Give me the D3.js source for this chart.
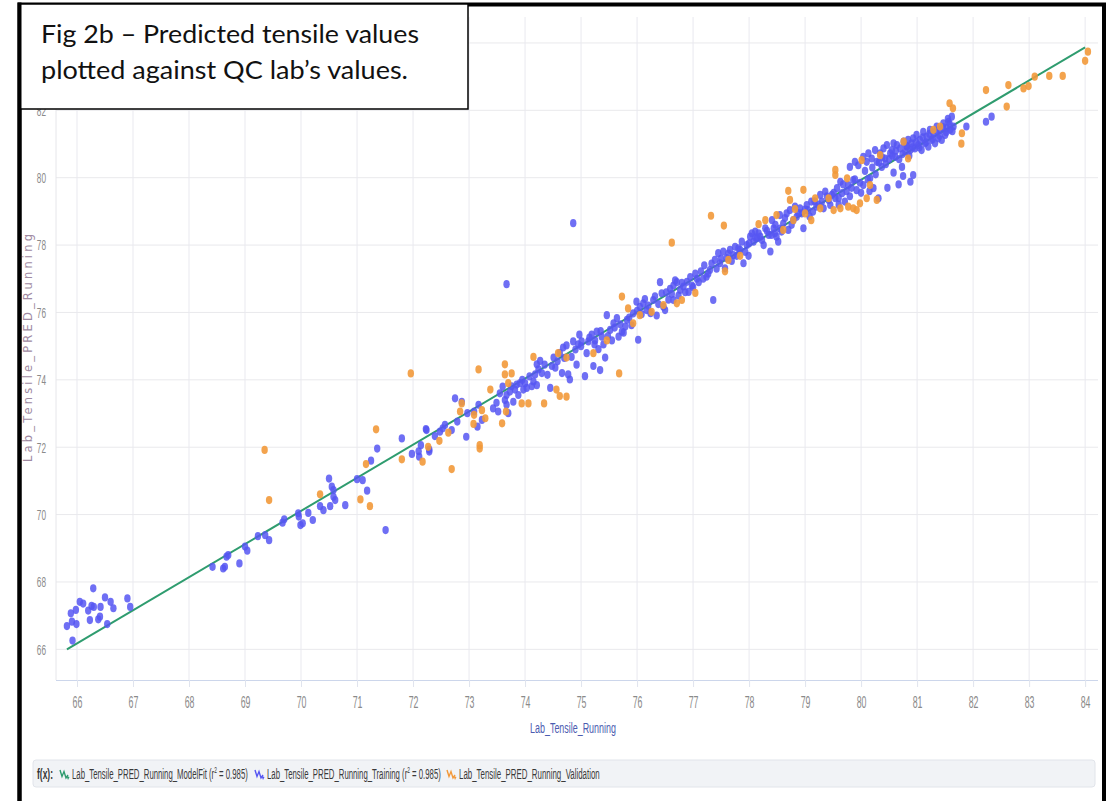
<!DOCTYPE html>
<html><head><meta charset="utf-8">
<script src="https://cdn.jsdelivr.net/npm/d3@7"></script>
<style>html,body{margin:0;padding:0;background:#fff;} svg{display:block;}</style>
</head><body>
<svg id="chart" width="1112" height="801"></svg>
<script>
// ---------- data ----------
const xTicks = [66,67,68,69,70,71,72,73,74,75,76,77,78,79,80,81,82,83,84];
const yGrid = [66,68,70,72,74,76,78,80,82,84];
const yLabels = [66,68,70,72,74,76,78,80,82];
const titleLines = ["Fig 2b \u2013 Predicted tensile values", "plotted against QC lab\u2019s values."];
const xTitle = "Lab_Tensile_Running";
const yTitle = "Lab_Tensile_PRED_Running";
const seriesNames = ["Lab_Tensile_PRED_Running_ModelFit", "Lab_Tensile_PRED_Running_Training", "Lab_Tensile_PRED_Running_Validation"];
const seriesR2 = ["0.985", "0.985", null];
const fitX = [65.82, 84.0];
const fitY = [66.0, 83.87];
const trainingPoints = [
[65.82,66.69],[65.91,66.82],[65.89,67.07],[65.98,67.17],[65.99,66.75],[65.92,66.26],[66.05,67.41],[66.11,67.36],[66.20,67.15],[66.23,66.87],[66.26,67.29],[66.29,67.81],[66.30,67.26],[66.38,66.89],[66.41,66.97],[66.42,67.26],[66.50,67.54],[66.54,66.75],[66.60,67.41],[66.65,67.22],[66.90,67.51],[66.95,67.26],
[68.42,68.45],[68.61,68.40],[68.64,68.45],[68.67,68.75],[68.70,68.80],[68.90,68.55],[69.00,69.05],[69.04,68.93],[69.23,69.36],[69.36,69.39],[69.43,69.24],[69.67,69.76],[69.70,69.86],[69.95,70.04],[69.96,69.94],[69.99,69.69],[70.03,69.74],[70.13,70.05],[70.21,69.84],[70.34,70.25],[70.40,70.13],[70.50,71.07],[70.52,70.25],[70.55,70.83],[70.58,70.73],[70.61,70.43],[70.58,70.53],[70.79,70.28],[71.00,71.05],[71.10,71.02],[71.18,70.71],[71.25,71.60],[71.36,71.96],[71.51,69.54],[71.80,72.26],[72.10,71.88],[72.23,72.54],[72.29,71.93],
[73.67,76.84],[71.98,71.80],[72.14,72.06],[72.11,71.72],[72.29,71.87],[72.24,72.51],[72.39,72.33],[72.48,72.46],[72.53,72.56],[72.57,72.66],[72.69,72.51],[72.75,73.45],[72.79,72.76],[72.87,73.35],[72.95,72.31],[72.97,73.01],[73.09,73.06],[73.15,72.61],[73.17,73.26],[73.23,72.81],[73.43,73.15],[73.49,73.32],[73.52,73.06],[73.64,73.40],[73.67,73.26],[73.67,73.55],[73.70,73.01],[73.76,73.81],[73.79,73.35],[73.82,73.71],[73.85,73.86],[73.88,73.55],[73.91,73.90],[73.97,73.71],[74.03,73.76],[74.12,73.81],[74.18,74.16],[74.21,74.46],[74.21,73.84],[74.24,74.31],[74.27,74.56],[74.30,74.20],[74.45,73.76],[74.48,74.41],[74.51,74.66],[74.54,74.36],[74.66,74.20],[74.68,74.96],[74.74,75.02],[74.77,74.16],[74.80,74.01],[74.83,74.68],[74.86,75.14],[74.95,75.05],[74.97,75.34],[75.01,75.14],[75.07,74.11],[75.10,74.79],[75.13,75.14],[75.19,75.34],[75.22,74.41],[75.25,75.17],[75.28,75.43],[75.31,74.91],[75.34,74.29],[75.37,75.28],[75.40,75.05],[75.43,74.66],[75.46,75.92],[75.52,75.48],[75.55,75.17],[75.58,75.68],[75.64,75.83],[75.67,75.28],[75.73,75.43],[75.79,75.58],[75.82,75.78],[75.93,75.97],[75.99,76.32],[76.02,75.19],[76.05,76.17],[76.11,76.27],[76.17,76.07],[76.29,76.37],[76.35,75.91],[76.41,76.90],[76.44,76.57],[76.47,76.17],[76.50,76.07],[76.59,76.70],[76.65,76.80],[76.65,76.37],[76.71,76.90],[76.77,76.67],[76.83,76.77],[76.89,76.91],[76.92,76.61],[76.98,76.80],[77.07,77.00],[74.86,78.65],
[77.36,76.37],[77.24,77.06],[77.30,77.26],[77.39,77.56],[77.45,77.76],[77.48,77.46],[77.54,77.81],[77.57,77.31],[77.60,77.61],[77.66,77.86],[77.69,77.53],[77.75,77.95],[77.78,77.68],[77.84,77.86],[77.87,78.10],[77.90,77.46],[77.96,78.00],[77.99,77.68],[78.02,78.25],[78.05,78.35],[78.08,78.10],[78.11,78.40],[78.14,78.20],[78.17,78.35],[78.20,78.25],[78.26,78.00],[78.29,78.50],[78.35,78.30],[78.38,77.81],[78.41,78.74],[78.44,78.50],[78.46,78.35],[78.49,78.25],[78.52,78.10],[78.55,78.89],[78.55,78.49],[78.61,78.64],[78.67,78.94],[78.70,78.45],[78.73,79.04],[78.79,78.74],[78.82,79.14],[78.85,78.84],[78.91,79.09],[78.94,78.94],[78.97,78.50],[79.03,79.19],[79.05,79.04],[79.11,79.29],[79.14,78.99],[79.20,79.14],[79.27,79.49],[79.30,79.29],[79.33,79.09],[79.36,79.59],[79.42,79.34],[79.45,79.19],[79.48,79.49],[79.54,79.39],[79.57,79.69],[79.63,79.88],[79.66,79.54],[79.71,79.29],[79.77,79.78],[79.86,79.93],[79.92,79.63],[80.04,79.78],[80.16,79.98],[80.22,79.69],[80.31,79.39],
[79.80,80.32],[79.89,80.47],[79.95,80.37],[80.04,80.62],[80.10,80.47],[80.13,80.72],[80.19,80.57],[80.25,80.82],[80.28,80.47],[80.34,80.72],[80.37,80.32],[80.40,80.87],[80.43,80.57],[80.46,80.97],[80.47,79.70],[80.52,80.72],[80.55,80.82],[80.58,81.02],[80.61,80.62],[80.64,80.97],[80.67,79.80],[80.70,80.87],[80.73,80.32],[80.76,81.07],[80.79,80.77],[80.82,80.92],[80.84,81.12],[80.88,80.82],[80.88,79.88],[80.90,81.02],[80.93,80.08],[80.93,81.17],[80.96,80.87],[80.99,81.27],[81.02,80.97],[81.05,81.12],[81.08,80.82],[81.11,81.36],[81.14,81.02],[81.17,81.22],[81.20,80.92],[81.23,81.42],[81.26,81.12],[81.29,81.32],[81.32,81.02],[81.35,81.52],[81.38,81.17],[81.41,81.42],[81.44,81.12],[81.47,81.61],[81.50,81.27],[81.53,81.47],[81.56,81.66],[81.59,81.42],[81.62,81.81],[81.65,81.52],[81.88,81.52],
[82.23,81.66],[82.33,81.81],
[73.55,73.60],[73.60,73.80],[73.73,73.65],[73.95,74.00],[74.00,73.90],[74.08,74.10],[74.15,73.95],[74.35,74.45],[74.40,74.15],[74.58,74.55],[74.62,74.80],[74.70,74.65],[74.90,74.90],[75.00,75.00],[74.92,74.45],
[75.15,75.25],[75.24,75.05],[75.35,75.45],[75.48,75.30],[75.60,75.55],[75.70,75.65],[75.76,75.40],[75.86,75.85],[75.90,75.62],[76.00,76.05],[76.08,75.95],[76.14,76.40],[76.20,76.20],[76.24,75.98],[76.32,76.48],[76.38,76.25],[76.52,76.60],[76.56,76.38],[76.62,76.55],[76.68,76.95],[76.74,76.50],[76.80,76.88],[76.86,76.60],[76.95,77.05],[77.00,76.75],[77.04,77.15],[77.10,76.90],[77.14,77.22],[77.18,77.00],[77.20,77.40],[77.27,77.15],[77.33,77.45],[77.42,77.30],[77.50,77.60],[77.63,77.75],[77.72,77.70],[77.81,77.90],[77.93,77.80],[78.00,78.05],[78.12,78.22],[78.23,78.15],[78.32,78.42],[78.40,78.30],[78.47,78.60],[78.58,78.40],[78.64,78.80],[78.76,78.60],[78.88,78.95],[79.00,79.05],[79.08,78.85],[79.17,79.30],[79.24,79.20],[79.39,79.45],[79.51,79.55],[79.60,79.40],[79.68,79.80],[79.74,79.60],[79.83,79.70],[79.89,79.95],[79.98,79.85],[80.07,80.20],[80.12,79.95],[80.20,80.30],[80.26,80.10],[80.32,80.45],[80.38,80.60],[80.44,80.40],[80.50,80.55],[80.56,80.65],[80.62,80.80],[80.68,80.55],[80.74,80.70],[80.80,80.95],[80.86,80.65],[80.92,80.90],[80.98,81.05],[81.04,80.90],[81.10,81.20],[81.16,81.05],[81.22,81.30],[81.28,81.15],[81.34,81.40],[81.40,81.25],[81.46,81.50],[81.52,81.35],[81.58,81.60],[81.63,81.38],[81.55,81.75],
[79.60,79.20],[79.80,79.45],[80.00,79.55],[80.15,79.60],[80.58,80.15],[80.75,80.05]
];
const validationPoints = [
[69.35,71.92],[69.43,70.43],[70.34,70.60],[71.06,70.45],[71.16,71.50],[71.23,70.25],[71.34,72.53],
[71.96,74.19],[71.80,71.64],[72.17,71.57],[72.27,72.01],[72.47,72.19],[72.63,72.43],[72.69,71.35],[72.84,73.06],[72.87,73.30],[73.08,72.69],[73.09,72.96],[73.19,72.06],[73.19,71.96],[73.17,74.31],[73.23,73.10],[73.29,72.86],[73.38,73.71],[73.59,72.71],[73.64,74.46],[73.64,74.16],[73.66,73.06],[73.70,73.90],[73.76,74.19],[73.94,73.30],[74.06,73.30],[74.15,74.68],[74.34,73.30],[74.56,73.71],[74.59,74.79],[74.62,73.52],[74.74,73.50],[74.74,74.66],[75.22,74.79],[75.46,75.17],[75.68,74.19],[75.73,76.47],[75.84,76.12],[75.93,75.68],[76.05,75.92],[76.26,76.02],[76.47,76.22],[76.71,76.27],[76.80,76.37],[77.04,76.58],
[76.62,78.07],[77.32,78.87],[77.55,78.58],[77.63,77.56],[77.57,77.22],[77.84,77.68],[78.17,78.62],[78.29,78.74],[78.49,78.89],[78.61,78.45],[78.70,79.61],[78.73,79.34],[78.79,78.74],[78.82,79.07],[78.97,79.64],[79.00,78.94],[79.11,78.74],[79.18,79.39],[79.27,79.09],[79.42,79.39],[79.54,80.08],[79.51,79.04],[79.63,79.09],[79.75,79.98],[79.77,79.14],[79.86,79.09],[79.92,79.04],[79.98,79.24],[80.10,79.39],[80.16,79.78],[80.28,79.34],
[79.54,80.23],[80.01,80.52],[80.34,80.67],[80.76,81.07],[80.84,80.57],[81.29,81.42],[81.41,81.52],[81.58,82.21],[81.64,82.06],[81.80,81.32],[81.79,81.01],
[82.23,82.60],[82.60,82.11],[82.63,82.75],[82.90,82.65],[82.99,82.72],[83.10,83.00],[83.36,83.02],[83.60,83.02],[84.00,83.47],[84.05,83.74]
];

// ---------- drawing ----------
const svg = d3.select("#chart");
const C = {fit:"#2f9c6f", train:"#5656f2", valid:"#f2993a"};
const plot = {left:56, right:1098, top:17, bottom:680};
const x = d3.scaleLinear().domain([65.625, 84.23]).range([plot.left, plot.right]);
const y = d3.scaleLinear().domain([65.09, 84.77]).range([plot.bottom, plot.top]);
const tickFont = "'Liberation Sans', Arial, sans-serif";
const sx = 0.55;

svg.append("rect").attr("width",1112).attr("height",801).attr("fill","#fff");

// gridlines
svg.append("g").selectAll("line").data(yGrid).join("line")
  .attr("x1",plot.left).attr("x2",plot.right).attr("y1",d=>y(d)).attr("y2",d=>y(d))
  .attr("stroke","#e9e9ec").attr("stroke-width",1);
svg.append("g").selectAll("line").data(xTicks).join("line")
  .attr("x1",d=>x(d)).attr("x2",d=>x(d)).attr("y1",plot.top).attr("y2",plot.bottom)
  .attr("stroke","#e9e9ef").attr("stroke-width",1);
svg.append("line").attr("x1",plot.left).attr("x2",plot.left).attr("y1",plot.top).attr("y2",plot.bottom)
  .attr("stroke","#e6e6ea");

// x axis
const gx = svg.append("g").attr("transform",`translate(0,${plot.bottom})`)
  .call(d3.axisBottom(x).tickValues(xTicks).tickFormat(d3.format("d")).tickSize(7).tickPadding(10));
gx.select(".domain").attr("stroke","#ccd6eb").attr("d",`M${plot.left},0.5H${plot.right}`);
gx.selectAll(".tick line").attr("stroke","#e0e4ee");
gx.selectAll(".tick text").attr("fill","#8a8a8a").attr("font-family",tickFont).attr("font-size",16)
  .attr("transform",`scale(${sx},1)`);

// y axis
const gy = svg.append("g").attr("transform",`translate(${plot.left},0)`)
  .call(d3.axisLeft(y).tickValues(yLabels).tickFormat(d3.format("d")).tickSize(0).tickPadding(10));
gy.select(".domain").remove();
gy.selectAll(".tick text").attr("fill","#8a8a8a").attr("font-family",tickFont).attr("font-size",15)
  .attr("x",-10/sx).attr("transform",`scale(${sx},1)`);

// axis titles
function fitWidth(sel, cx, cy, w){
  const nw = sel.node().getComputedTextLength();
  const k = w / nw;
  sel.attr("transform",`translate(${cx},${cy}) scale(${k},1)`);
}
const xt = svg.append("text").text(xTitle).attr("text-anchor","middle")
  .attr("font-family",tickFont).attr("font-size",15).attr("fill","#4b5bb0");
fitWidth(xt, 573, 733, 86);

svg.append("text").text(yTitle)
  .attr("transform","translate(32,348) rotate(-90)")
  .attr("text-anchor","middle").attr("font-family","'DejaVu Sans', sans-serif").attr("font-size",11.5)
  .attr("fill","#a08aa2").attr("textLength",228).attr("lengthAdjust","spacing");

// fit line
svg.append("path").datum(d3.zip(fitX, fitY))
  .attr("d", d3.line().x(d=>x(d[0])).y(d=>y(d[1])))
  .attr("stroke",C.fit).attr("stroke-width",2).attr("fill","none");

// points
svg.append("g").selectAll("ellipse").data(trainingPoints).join("ellipse")
  .attr("cx",d=>x(d[0])).attr("cy",d=>y(d[1])).attr("rx",3.2).attr("ry",4.1)
  .attr("fill",C.train).attr("fill-opacity",0.85);
svg.append("g").selectAll("ellipse").data(validationPoints).join("ellipse")
  .attr("cx",d=>x(d[0])).attr("cy",d=>y(d[1])).attr("rx",3.2).attr("ry",4.1)
  .attr("fill",C.valid).attr("fill-opacity",0.9);

// legend
svg.append("rect").attr("x",33).attr("y",760).attr("width",1062).attr("height",27).attr("rx",3)
  .attr("fill","#f1f3f6").attr("stroke","#e1e4ea");
const lf = svg.append("text").text("f(x):").attr("font-family",tickFont).attr("font-weight","bold")
  .attr("font-size",14.5).attr("fill","#333");
fitWidth(lf, 37, 779, 16);
const legendLayout = [
  {color:C.fit, icon:60, tx:72, tw:176},
  {color:C.train, icon:255, tx:267, tw:174},
  {color:C.valid, icon:447, tx:459, tw:141}
];
legendLayout.forEach((L,i)=>{
  svg.append("path").attr("d",`M${L.icon},770 l2,6.5 l2,-5 l2,6.5 l2,-3`)
    .attr("stroke",L.color).attr("stroke-width",1.4).attr("fill","none");
  svg.append("path").attr("d",`M${L.icon+6.5},776 l1.5,4 l1.5,-3 z`).attr("fill",L.color);
  const t = svg.append("text").attr("font-family",tickFont).attr("font-size",14.5).attr("fill","#3a3a3a");
  t.append("tspan").text(seriesNames[i]);
  if (seriesR2[i]) {
    t.append("tspan").text(" (r");
    t.append("tspan").text("2").attr("font-size",9).attr("dy",-6);
    t.append("tspan").text(" = " + seriesR2[i] + ")").attr("dy",6);
  }
  fitWidth(t, L.tx, 779, L.tw);
});

// frame
svg.append("path").attr("d","M19.5,801 V4.5 H1104 V801").attr("fill","none").attr("stroke","#000").attr("stroke-width",4);

// title box
svg.append("rect").attr("x",20).attr("y",4).attr("width",448).attr("height",105)
  .attr("fill","#fff").attr("stroke","#000").attr("stroke-width",1.5);
svg.append("text").text(titleLines[0]).attr("x",41).attr("y",43)
  .attr("font-family","Lato, 'Open Sans', sans-serif").attr("font-size",25).attr("fill","#111")
  .attr("textLength",378).attr("lengthAdjust","spacingAndGlyphs");
svg.append("text").text(titleLines[1]).attr("x",41).attr("y",79)
  .attr("font-family","Lato, 'Open Sans', sans-serif").attr("font-size",25).attr("fill","#111")
  .attr("textLength",367).attr("lengthAdjust","spacingAndGlyphs");
svg.append("line").attr("x1",19.5).attr("x2",19.5).attr("y1",2.5).attr("y2",801).attr("stroke","#000").attr("stroke-width",4);
</script>
</body></html>
